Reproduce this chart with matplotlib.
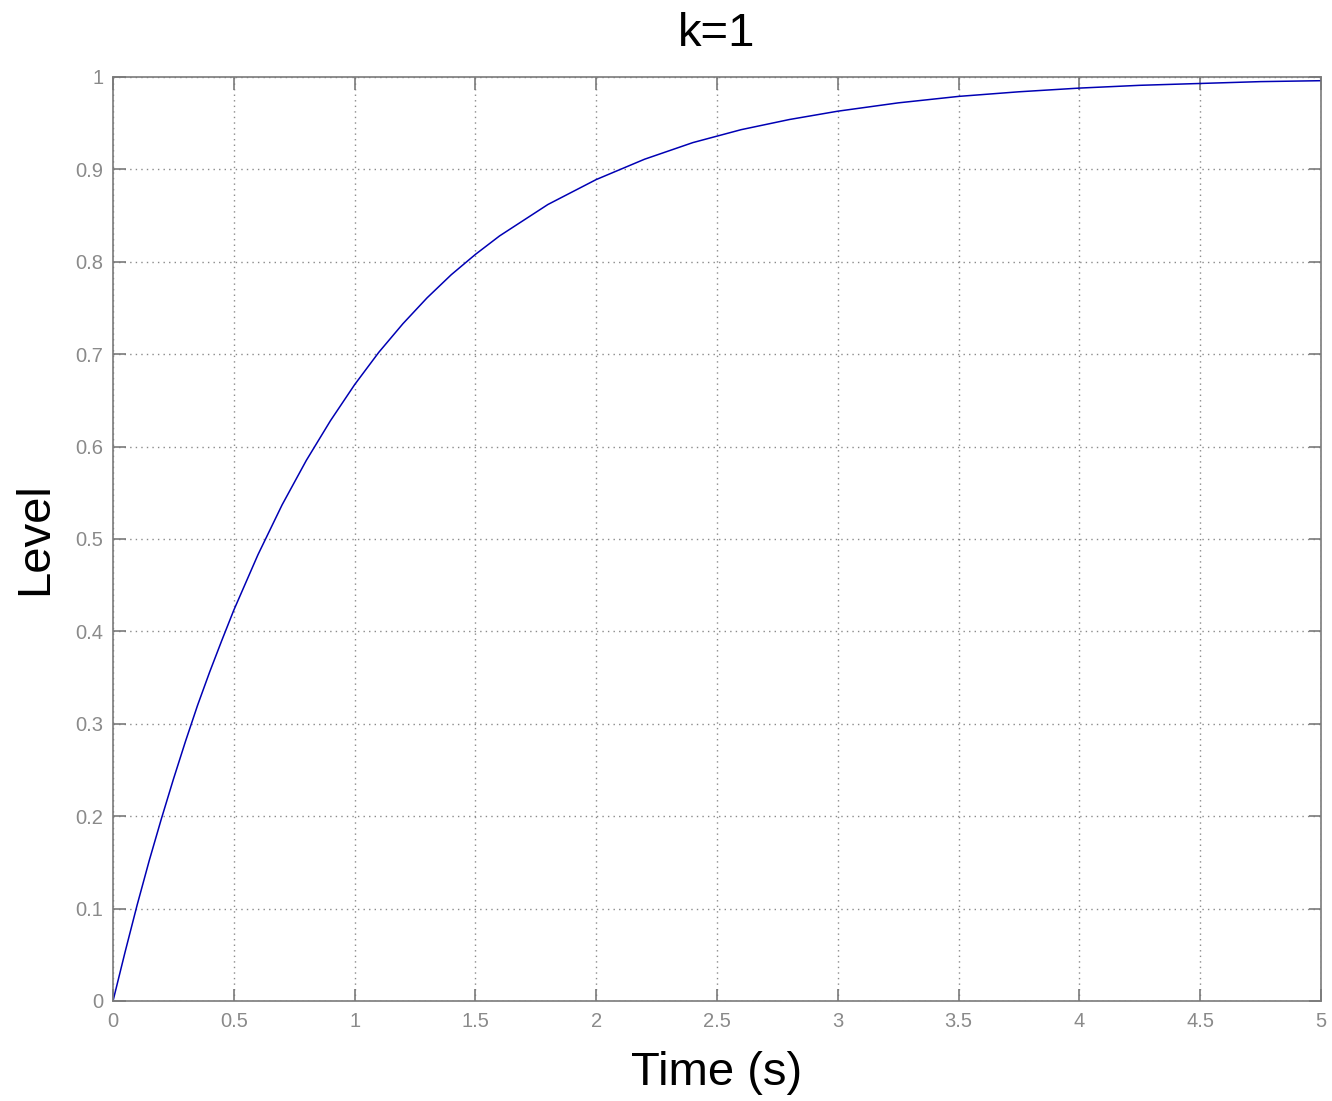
import matplotlib
matplotlib.use("Agg")
import matplotlib.pyplot as plt

# Values
time_s = [0, 0.05, 0.1, 0.15, 0.2, 0.25, 0.3, 0.35, 0.4, 0.45, 0.5, 0.6, 0.7, 0.8,
          0.9, 1.0, 1.1, 1.2, 1.3, 1.4, 1.5, 1.6, 1.8, 2.0, 2.2, 2.4, 2.6, 2.8,
          3.0, 3.25, 3.5, 3.75, 4.0, 4.25, 4.5, 4.75, 5.0]
level = [0, 0.053, 0.104, 0.152, 0.197, 0.240, 0.281, 0.320, 0.356, 0.390, 0.423,
         0.483, 0.537, 0.585, 0.628, 0.667, 0.702, 0.733, 0.761, 0.786, 0.808,
         0.828, 0.862, 0.889, 0.911, 0.929, 0.943, 0.954, 0.963, 0.972, 0.979,
         0.984, 0.988, 0.991, 0.993, 0.995, 0.996]
x_ticks = [0, 0.5, 1, 1.5, 2, 2.5, 3, 3.5, 4, 4.5, 5]
x_tick_labels = ["0", "0.5", "1", "1.5", "2", "2.5", "3", "3.5", "4", "4.5", "5"]
y_ticks = [0, 0.1, 0.2, 0.3, 0.4, 0.5, 0.6, 0.7, 0.8, 0.9, 1]
y_tick_labels = ["0", "0.1", "0.2", "0.3", "0.4", "0.5", "0.6", "0.7", "0.8", "0.9", "1"]

plt.rcParams['font.family'] = ['Liberation Sans', 'DejaVu Sans']

fig = plt.figure(figsize=(13.32, 11.01), dpi=100)
ax = fig.add_axes([113/1332, 1 - 1001/1101, (1321 - 113)/1332, (1001 - 77)/1101])

ax.plot(time_s, level, color='#0000b4', linewidth=1.1)

ax.set_xlim(0, 5)
ax.set_ylim(0, 1)
ax.set_xticks(x_ticks)
ax.set_xticklabels(x_tick_labels)
ax.set_yticks(y_ticks)
ax.set_yticklabels(y_tick_labels)

grey = '#7a7a7a'
for s in ax.spines.values():
    s.set_color(grey)
    s.set_linewidth(1.2)
ax.tick_params(direction='in', length=9, width=1.2, color=grey, labelcolor='#8a8a8a',
               labelsize=14.5, top=True, right=True)
ax.tick_params(axis='x', pad=8)
ax.tick_params(axis='y', pad=7)
ax.grid(True, linestyle=(0, (1, 3)), color='#8a8a8a', linewidth=1.0)

ax.set_title("k=1", fontsize=34, pad=22)
ax.set_xlabel("Time (s)", fontsize=34)
ax.set_ylabel("Level", fontsize=34)
ax.xaxis.set_label_coords(0.5, -0.054)
ax.yaxis.set_label_coords(-0.046, 0.5)

fig.savefig("out.png", dpi=100)
